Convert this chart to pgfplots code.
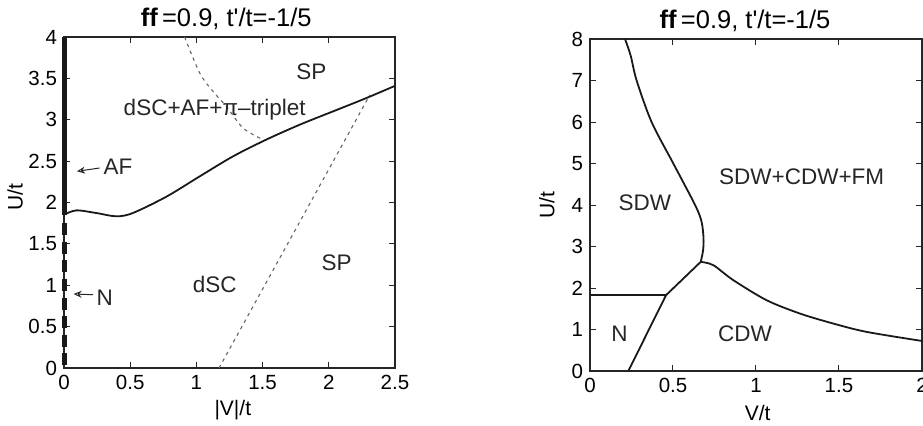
\documentclass[border=0pt]{standalone}
\usepackage{fontspec}
\setmainfont{Liberation Sans}
\usepackage{pgfplots}
\pgfplotsset{compat=1.18}
\usetikzlibrary{arrows.meta}

\pgfplotsset{
  phase/.style={
    scale only axis,
    clip=false,
    axis line style={line width=0.6pt, black!85},
    tick align=inside,
    major tick length=3pt,
    tick style={line width=0.5pt, black!85},
    ticklabel style={font=\fontsize{10.25}{12}\selectfont},
    /pgf/number format/assume math mode=true,
    label style={font=\fontsize{10.5}{12}\selectfont},
    every axis title shift=0pt,
    title style={font=\fontsize{12.75}{15}\selectfont, anchor=base},
  },
  boundary/.style={line width=0.9pt, black!90, smooth, tension=0.5},
  guide/.style={line width=0.55pt, black!60, dash pattern=on 1.7pt off 2pt},
}
\tikzset{region/.style={font=\fontsize{11.25}{13}\selectfont, text=black!85}}

\begin{document}
\begin{tikzpicture}
% left panel: U/t versus |V|/t
\begin{axis}[phase,
  at={(32pt,28.5pt)}, anchor=south west,
  width=165.5pt, height=165.5pt,
  xmin=0, xmax=2.5, ymin=0, ymax=4,
  xtick={0,0.5,1,1.5,2,2.5},
  ytick={0,0.5,1,1.5,2,2.5,3,3.5,4},
  title={\textbf{ff}\,=0.9, t\textquotesingle/t=-1/5},
  title style={at={(axis description cs:0.49,1)}, yshift=5.5pt},
  xlabel={|V|/t},
  xlabel style={at={(axis description cs:0.51,-0.127)}, anchor=center},
  ylabel={U/t},
  ylabel style={at={(axis description cs:-0.148,0.517)}, anchor=center},
]
% AF on the U axis (solid) and N (dashed)
\addplot[line width=2.5pt, black!90] coordinates {(0,1.85) (0,4)};
\addplot[line width=2.5pt, black!90, dash pattern=on 6pt off 3.3pt] coordinates {(0,1.75) (0,0.04)};
% dSC / dSC+AF+pi-triplet boundary
\addplot[boundary] coordinates {
  (0,1.853) (0.093,1.905) (0.244,1.873) (0.395,1.833) (0.52,1.873)
  (0.773,2.07) (1.025,2.316) (1.277,2.558) (1.528,2.76) (1.78,2.94)
  (2.03,3.10) (2.28,3.26) (2.5,3.41)};
% SP crossovers
\addplot[guide, smooth] coordinates {
  (0.911,4.0) (1.025,3.565) (1.125,3.343) (1.226,3.162) (1.352,2.90) (1.503,2.76)};
\addplot[guide] coordinates {(1.171,0) (2.31,3.30)};
% arrows
\addplot[line width=0.5pt, black!85, -{Stealth[length=4pt,width=3.5pt,open]}] coordinates {(0.269,2.417) (0.098,2.377)};
\addplot[line width=0.5pt, black!85, -{Stealth[length=4pt,width=3.5pt,open]}] coordinates {(0.219,0.886) (0.073,0.894)};
% region names
\node[region] at (axis cs:1.868,3.585) {SP};
\node[region] at (axis cs:1.138,3.12) {dSC+AF+π--triplet};
\node[region] at (axis cs:0.408,2.437) {AF};
\node[region] at (axis cs:2.06,1.27) {SP};
\node[region] at (axis cs:1.138,1.007) {dSC};
\node[region] at (axis cs:0.307,0.846) {N};
\end{axis}

% right panel: U/t versus V/t
\begin{axis}[phase,
  at={(295pt,27pt)}, anchor=south west,
  width=166pt, height=166pt,
  xmin=0, xmax=2, ymin=0, ymax=8,
  xtick={0,0.5,1,1.5,2},
  ytick={0,1,2,3,4,5,6,7,8},
  title={\textbf{ff}\,=0.9, t\textquotesingle/t=-1/5},
  title style={at={(axis description cs:0.467,1)}, yshift=5.5pt},
  xlabel={V/t},
  xlabel style={at={(axis description cs:0.505,-0.1265)}, anchor=center},
  ylabel={U/t},
  ylabel style={at={(axis description cs:-0.13,0.5)}, anchor=center},
]
% SDW / SDW+CDW+FM
\addplot[boundary] coordinates {
  (0.211,8.00) (0.245,7.60) (0.281,7.00) (0.371,6.00) (0.502,5.00)
  (0.633,4.00) (0.672,3.60) (0.684,3.20) (0.681,2.90) (0.667,2.63)};
% CDW / SDW+CDW+FM
\addplot[boundary] coordinates {
  (0.667,2.63) (0.743,2.55) (0.863,2.19) (1.064,1.706) (1.265,1.384)
  (1.466,1.143) (1.667,0.942) (2.0,0.724)};
% N / CDW and SDW / CDW
\addplot[line width=0.9pt, black!90] coordinates {(0.231,0) (0.458,1.827) (0.667,2.63)};
% N / SDW
\addplot[line width=1.1pt, black!90] coordinates {(0,1.827) (0.458,1.827)};
\node[region] at (axis cs:0.331,4.06) {SDW};
\node[region] at (axis cs:1.275,4.68) {SDW+CDW+FM};
\node[region] at (axis cs:0.177,0.90) {N};
\node[region] at (axis cs:0.934,0.90) {CDW};
\end{axis}

\pgfresetboundingbox
\path (0pt,0pt) rectangle (461.5pt,212.5pt);
\end{tikzpicture}
\end{document}
